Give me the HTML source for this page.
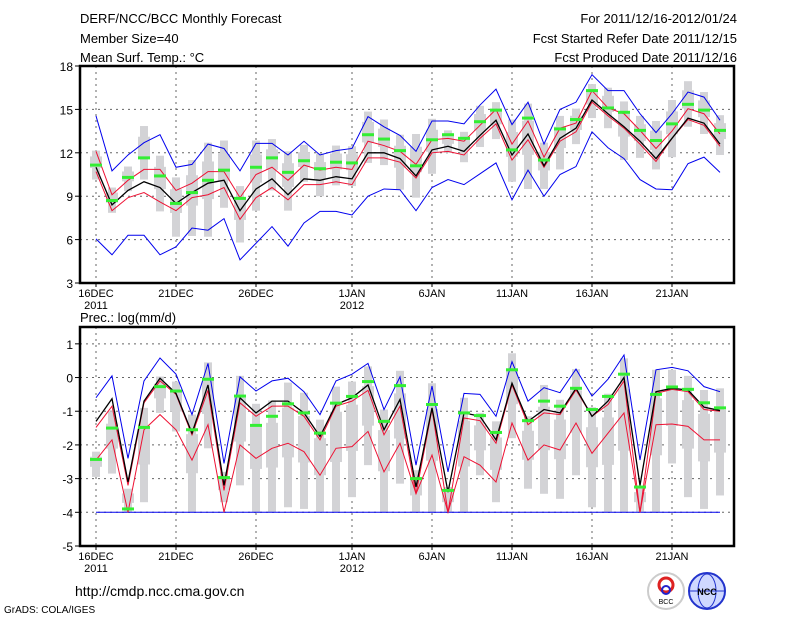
<!DOCTYPE html>
<html><head><meta charset="utf-8"><style>
body{margin:0;background:#fff}
svg text{font-family:"Liberation Sans",sans-serif;fill:#000}
</style></head><body>
<svg id="c" width="800" height="618" xmlns="http://www.w3.org/2000/svg">
<text x="80" y="23" font-size="13">DERF/NCC/BCC Monthly Forecast</text>
<text x="80" y="43" font-size="13">Member Size=40</text>
<text x="80" y="62" font-size="13">Mean Surf. Temp.: °C</text>
<text x="737" y="23" font-size="13" text-anchor="end">For 2011/12/16-2012/01/24</text>
<text x="737" y="43" font-size="13" text-anchor="end">Fcst Started Refer Date 2011/12/15</text>
<text x="737" y="62" font-size="13" text-anchor="end">Fcst Produced Date 2011/12/16</text>
<text x="80" y="322" font-size="13">Prec.: log(mm/d)</text>
<text x="75" y="596" font-size="14">http://cmdp.ncc.cma.gov.cn</text>
<text x="4" y="613" font-size="10">GrADS: COLA/IGES</text>
<g><circle cx="666" cy="591" r="18" fill="#fff" stroke="#ccc" stroke-width="2"/><circle cx="666" cy="585" r="7" fill="none" stroke="#d22" stroke-width="3"/><circle cx="666" cy="590" r="4" fill="none" stroke="#22c" stroke-width="2"/><text x="666" y="604" font-size="7" text-anchor="middle">BCC</text></g>
<g><circle cx="707" cy="591" r="18" fill="#cfd8ff" stroke="#2233cc" stroke-width="2"/><ellipse cx="707" cy="591" rx="9" ry="17" fill="none" stroke="#2233cc"/><line x1="689" y1="591" x2="725" y2="591" stroke="#2233cc"/><text x="707" y="595" font-size="9" text-anchor="middle" fill="#2233cc" font-weight="bold">NCC</text></g>
</svg>
<script>
// Temperature data (days 0..39 from 16DEC)
const tBlack=[11.0,8.4,9.4,10.0,9.6,8.5,9.25,9.9,10.1,8.0,9.5,10.2,9.1,10.2,10.1,10.35,10.2,12.0,12.0,11.6,10.4,12.2,12.45,12.1,13.2,14.25,11.85,13.3,11.1,13.0,13.7,15.65,14.7,13.8,12.8,11.6,13.0,14.4,14.05,12.6];
const tRedHi=[12.1,9.1,10.1,10.85,10.85,9.4,9.9,10.7,10.7,8.9,10.5,11.0,10.1,11.15,10.8,11.0,10.85,12.8,12.5,12.1,11.2,12.9,13.0,12.8,13.9,15.0,12.6,14.2,11.7,13.7,14.05,16.3,15.1,14.7,13.55,12.3,13.5,15.05,14.7,13.3];
const tRedLo=[10.7,8.0,8.9,9.25,8.6,8.0,8.9,9.1,9.6,7.4,8.9,9.6,8.75,9.8,9.8,10.0,9.8,11.65,11.65,11.35,10.25,12.0,12.1,11.85,13.0,14.0,11.5,12.9,11.0,12.8,13.45,15.5,14.55,13.7,12.6,11.4,13.0,14.3,13.9,12.45];
const tBlueHi=[14.55,10.75,11.85,12.7,13.25,11.0,11.2,12.6,12.3,10.75,12.65,12.65,11.85,12.8,11.85,12.15,12.3,14.5,13.8,13.2,12.1,14.2,14.2,14.0,15.3,16.4,13.95,15.5,12.6,15.0,15.5,17.4,16.3,16.3,14.7,13.4,14.7,16.2,15.85,14.25];
const tBlueLo=[6.05,4.95,6.3,6.3,4.95,5.5,6.8,6.65,7.45,4.6,5.75,6.9,5.55,7.15,7.95,7.95,7.7,9.0,9.5,9.45,8.0,9.6,10.15,9.8,10.55,11.3,8.75,10.8,9.0,10.5,11.05,13.45,12.35,11.6,10.15,9.5,9.45,11.25,11.7,10.65];
const tObs=[11.15,8.7,10.3,11.65,10.4,8.5,9.25,10.1,10.8,8.85,11.0,11.65,10.65,11.45,10.9,11.35,11.3,13.25,12.95,12.15,11.1,12.9,13.25,13.0,14.15,14.95,12.2,14.4,11.5,13.65,14.3,16.3,15.1,14.8,13.55,12.85,14.0,15.35,14.95,13.55];
const tGrayHi=[12.15,9.6,11.05,13.85,11.8,10.3,11.5,12.7,12.85,9.7,12.85,12.95,12.1,12.55,11.95,12.5,12.45,14.85,14.3,13.25,13.3,14.35,13.55,13.45,15.25,15.5,14.3,15.4,12.7,14.55,15.05,16.75,16.5,15.55,14.55,14.2,15.65,16.95,16.2,14.6];
const tGrayLo=[10.15,7.85,9.35,10.15,7.95,6.2,6.25,6.2,8.2,5.8,8.0,9.4,8.0,10.0,9.0,9.75,9.7,11.3,11.15,9.45,8.9,10.55,12.0,11.35,12.4,12.95,10.0,9.5,9.5,10.85,12.6,14.4,13.7,11.5,11.65,10.85,11.7,13.8,13.3,11.85];
// Precipitation data
const pBlack=[-1.3,-0.63,-3.1,-0.7,-0.02,-0.47,-1.65,-0.22,-3.2,-0.6,-1.05,-0.7,-0.7,-1.05,-1.75,-0.8,-0.6,-0.22,-1.55,-0.65,-3.25,-0.9,-3.4,-1.05,-1.15,-1.85,-0.17,-1.3,-0.95,-1.05,-0.32,-1.15,-0.7,0.0,-3.2,-0.42,-0.32,-0.37,-0.88,-0.98];
const pRedHi=[-1.48,-0.85,-3.2,-0.75,-0.1,-0.5,-1.7,-0.38,-3.35,-0.75,-1.15,-0.85,-0.85,-1.15,-1.85,-0.85,-0.7,-0.38,-1.7,-0.85,-3.45,-0.95,-4.0,-1.2,-1.28,-1.95,-0.22,-1.4,-1.05,-1.1,-0.37,-1.15,-0.8,-0.1,-4.0,-0.47,-0.35,-0.42,-0.95,-1.0];
const pRedLo=[-2.45,-1.85,-4.0,-1.55,-1.1,-1.55,-2.45,-1.4,-4.0,-2.0,-2.4,-2.1,-1.95,-2.2,-2.9,-2.1,-2.05,-1.6,-2.8,-1.95,-3.45,-2.3,-4.0,-2.35,-2.6,-3.1,-1.35,-2.45,-2.0,-2.15,-1.35,-2.25,-1.65,-1.05,-4.0,-1.4,-1.38,-1.45,-1.85,-1.85];
const pBlueHi=[-0.6,0.05,-2.4,-0.1,0.58,0.1,-1.1,0.42,-2.55,0.02,-0.4,-0.1,-0.02,-0.42,-1.1,-0.1,0.1,0.42,-0.95,0.02,-2.6,-0.25,-2.8,-0.47,-0.5,-1.15,0.47,-0.7,-0.3,-0.45,0.25,-0.55,-0.05,0.67,-2.45,0.23,0.3,0.2,-0.27,-0.42];
const pBlueLo=[-4,-4,-4,-4,-4,-4,-4,-4,-4,-4,-4,-4,-4,-4,-4,-4,-4,-4,-4,-4,-4,-4,-4,-4,-4,-4,-4,-4,-4,-4,-4,-4,-4,-4,-4,-4,-4,-4,-4,-4];
const pObs=[-2.43,-1.5,-3.9,-1.48,-0.27,-0.4,-1.55,-0.05,-2.97,-0.55,-1.42,-1.15,-0.78,-1.05,-1.65,-0.76,-0.56,-0.12,-1.3,-0.24,-3.0,-0.8,-3.35,-1.05,-1.13,-1.63,0.23,-1.28,-0.7,-0.85,-0.32,-0.95,-0.56,0.1,-3.25,-0.5,-0.28,-0.35,-0.75,-0.9];
const pGrayHi=[-2.2,-1.0,-3.3,-0.9,0.03,-0.12,-1.1,0.45,-2.8,0.05,-0.78,-0.68,-0.15,-0.45,-1.25,-0.27,-0.12,0.33,-0.95,0.2,-2.75,-0.17,-3.25,-0.6,-1.05,-1.3,0.72,-1.15,-0.22,-0.66,0.25,-0.88,-0.48,0.57,-3.25,0.23,0.23,0.05,-0.37,-0.32];
const pGrayLo=[-2.95,-2.85,-4.0,-3.7,-1.05,-1.6,-4.0,-2.1,-3.7,-3.2,-4.0,-4.0,-3.85,-3.9,-4.0,-4.0,-3.55,-2.6,-4.0,-3.15,-4.0,-4.0,-4.0,-4.0,-2.9,-3.7,-1.8,-3.3,-3.45,-3.6,-2.9,-3.85,-4.0,-4.0,-4.0,-4.0,-2.55,-3.55,-3.9,-3.5];
const xTickDays=[0,5,10,16,21,26,31,36];
const xTickLabels=["16DEC","21DEC","26DEC","1JAN","6JAN","11JAN","16JAN","21JAN"];
const tYTicks=[3,6,9,12,15,18];
const pYTicks=[-5,-4,-3,-2,-1,0,1];

const svg=document.getElementById('c');
const NS='http://www.w3.org/2000/svg';
function mk(tag,attrs,parent){const e=document.createElementNS(NS,tag);for(const k in attrs)e.setAttribute(k,attrs[k]);(parent||svg).appendChild(e);return e;}
const xOf=d=>96+16*d;
const L=80,R=734;

function panel(name,top,bot,vmin,vmax,yt,series){
  const y=v=>bot-(v-vmin)/(vmax-vmin)*(bot-top);
  const g=mk('g',{});
  
  
  // grid
  yt.forEach(v=>{
    if(v>vmin&&v<vmax){const l=mk('line',{x1:L,x2:R,y1:y(v),y2:y(v),stroke:'#666','stroke-dasharray':'2,4','stroke-width':1},g);
    
    }
    const t=mk('text',{x:73,y:y(v)+5,'font-size':12,'text-anchor':'end'},g);t.textContent=v;
    
    
    mk('line',{x1:L-5,x2:L,y1:y(v),y2:y(v),stroke:'#000'},g);
  });
  xTickDays.forEach((d,i)=>{
    const l=mk('line',{x1:xOf(d),x2:xOf(d),y1:top,y2:bot,stroke:'#666','stroke-dasharray':'2,4'},g);
    
    
    mk('line',{x1:xOf(d),x2:xOf(d),y1:bot,y2:bot+4,stroke:'#000'},g);
    const t=mk('text',{x:xOf(d),y:bot+14,'font-size':11,'text-anchor':'middle'},g);t.textContent=xTickLabels[i];
    
    
  });
  [[0,'2011'],[16,'2012']].forEach(([d,s])=>{const t=mk('text',{x:xOf(d),y:bot+26,'font-size':11,'text-anchor':'middle'},g);t.textContent=s;
    
    });
  // gray boxes
  series.gHi.forEach((hi,d)=>{
    const lo=series.gLo[d];
    const r=mk('rect',{x:xOf(d)-4,y:y(hi),width:8,height:y(lo)-y(hi),fill:'#d3d3d6'},g);
    
    
    const q3=lo+(hi-lo)*0.8,q1=lo+(hi-lo)*0.4;
    const b=mk('rect',{x:xOf(d)-6,y:y(q3),width:12,height:y(q1)-y(q3),fill:'#d3d3d6'},g);
    
    
  });
  const line=(arr,col,w,nm)=>{const p=mk('polyline',{points:arr.map((v,d)=>xOf(d)+','+y(v)).join(' '),fill:'none',stroke:col,'stroke-width':w},g);
    
    };
  line(series.bHi,'#0000ee',1,'max-line');
  line(series.bLo,'#0000ee',1,'min-line');
  line(series.rHi,'#ee1133',1,'upper-line');
  line(series.rLo,'#ee1133',1,'lower-line');
  line(series.k,'#000',1.3,'mean-line');
  series.obs.forEach((v,d)=>{const r=mk('rect',{x:xOf(d)-6,y:y(v)-1.5,width:12,height:3,fill:'#33ee33'},g);
    
    });
  const f=mk('rect',{x:L,y:top,width:R-L,height:bot-top,fill:'none',stroke:'#000','stroke-width':2.5},g);
  
  
}
panel('temperature-panel',66,283,3,18.0,tYTicks,{gHi:tGrayHi,gLo:tGrayLo,bHi:tBlueHi,bLo:tBlueLo,rHi:tRedHi,rLo:tRedLo,k:tBlack,obs:tObs});
panel('precipitation-panel',327,546,-5,1.5,pYTicks,{gHi:pGrayHi,gLo:pGrayLo,bHi:pBlueHi,bLo:pBlueLo,rHi:pRedHi,rLo:pRedLo,k:pBlack,obs:pObs});
</script>
</body></html>
